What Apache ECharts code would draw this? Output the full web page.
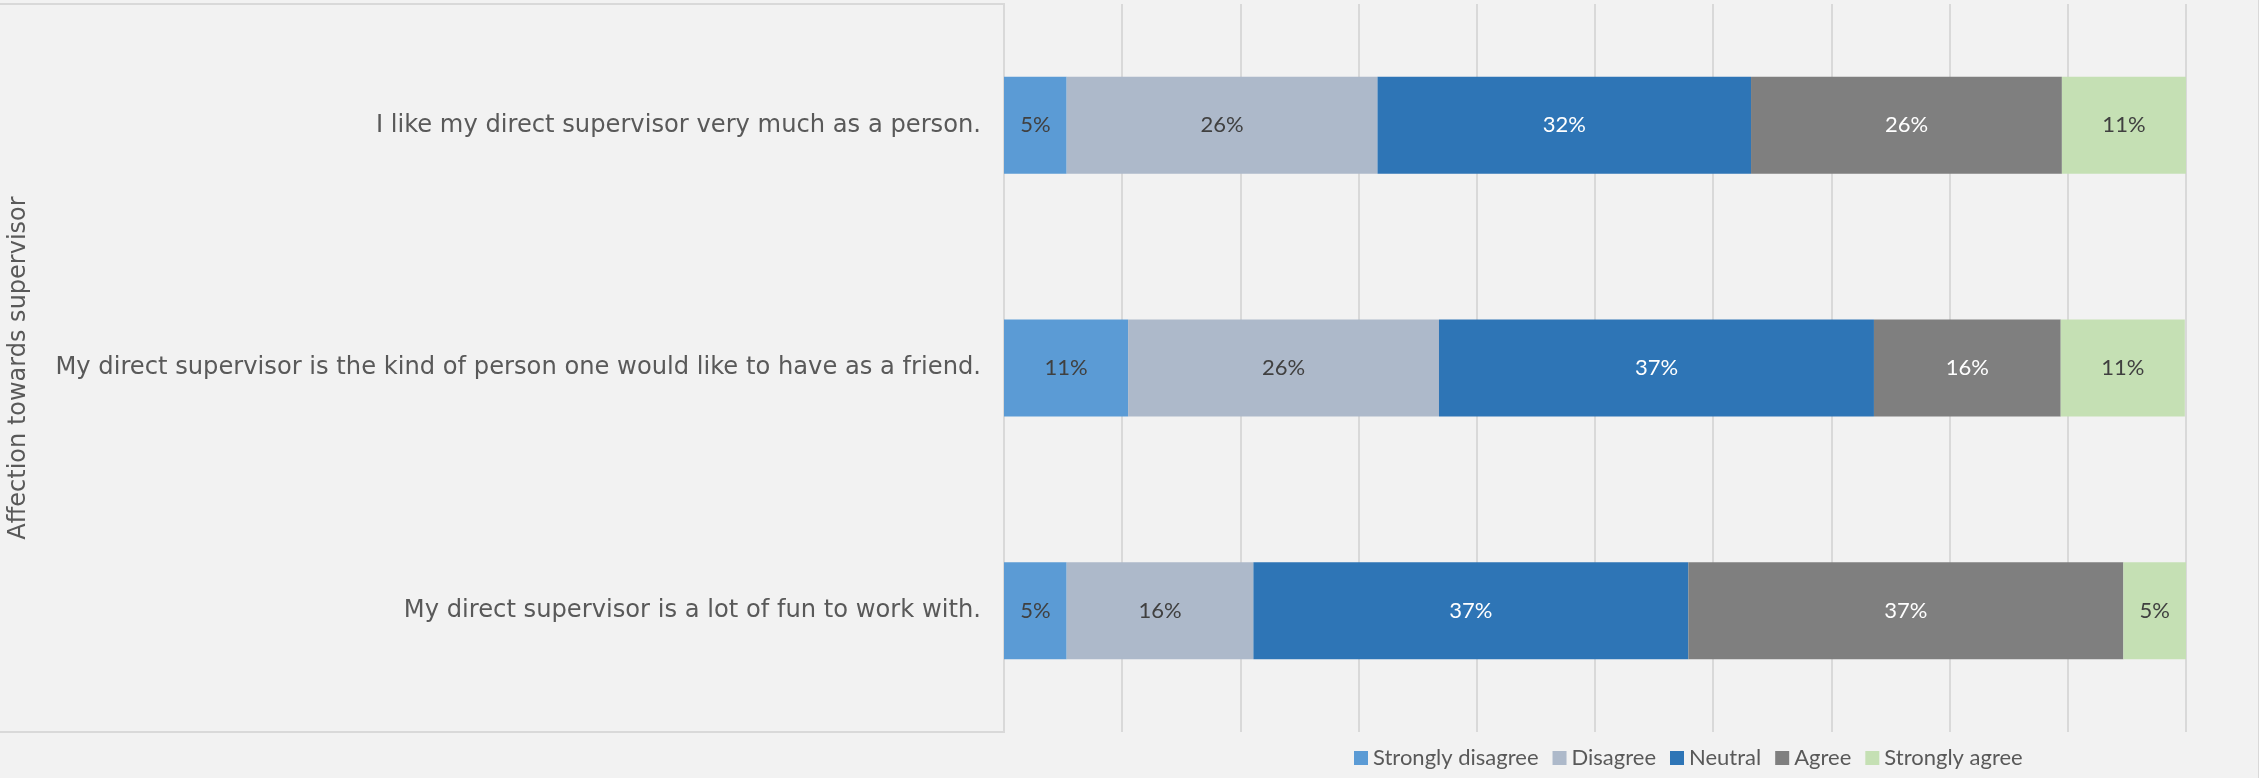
<!DOCTYPE html>
<html>
<head>
<meta charset="utf-8">
<title>Affection towards supervisor</title>
<script src="https://cdn.jsdelivr.net/npm/echarts@6/dist/echarts.min.js"></script>
<style>
  html, body { margin: 0; padding: 0; background: #f2f2f2; }
  #chart { width: 2259px; height: 778px; }
</style>
</head>
<body>
<div id="chart"></div>
<script>
// Survey statements (top to bottom)
const statements = [
  'I like my direct supervisor very much as a person.',
  'My direct supervisor is the kind of person one would like to have as a friend.',
  'My direct supervisor is a lot of fun to work with.'
];

// Response levels
const levels = ['Strongly disagree', 'Disagree', 'Neutral', 'Agree', 'Strongly agree'];

// Share of responses per level, in percent, one value per statement
const stronglyDisagree = [5.3, 10.5, 5.3];
const disagree         = [26.3, 26.3, 15.8];
const neutral          = [31.6, 36.8, 36.8];
const agree            = [26.3, 15.8, 36.8];
const stronglyAgree    = [10.5, 10.5, 5.3];

const seriesValues = [stronglyDisagree, disagree, neutral, agree, stronglyAgree];
const levelColors = ['#5b9bd5', '#adb9ca', '#2e75b6', '#7f7f7f', '#c5e0b4'];
const labelColors = ['#404040', '#404040', '#ffffff', '#ffffff', '#404040'];

// Layout of the plotting area
const W = 2259, H = 778;
const plotLeft = 1004, plotRight = 73, plotTop = 4, plotBottom = 46;

const chart = echarts.init(document.getElementById('chart'), null, { renderer: 'canvas' });

const series = levels.map((name, i) => ({
  name,
  type: 'bar',
  stack: 'total',
  barWidth: '40%',
  data: seriesValues[i],
  itemStyle: { color: levelColors[i] },
  label: {
    show: true,
    position: 'inside',
    color: labelColors[i],
    fontFamily: 'Lato',
    fontSize: 22,
    formatter: p => Math.round(p.value) + '%'
  },
  emphasis: { disabled: true }
}));

chart.setOption({
  backgroundColor: '#f2f2f2',
  animation: false,
  grid: {
    left: plotLeft, right: plotRight, top: plotTop, bottom: plotBottom,
    containLabel: false,
    outerBoundsMode: 'none'
  },
  legend: {
    data: levels,
    left: 1349,
    top: 742,
    icon: 'rect',
    itemWidth: 14,
    itemHeight: 14,
    itemGap: 14,
    textStyle: { fontFamily: 'Lato', fontSize: 22, color: '#595959' }
  },
  xAxis: {
    type: 'value',
    min: 0,
    max: 100,
    interval: 10,
    axisLabel: { show: false },
    axisTick: { show: false },
    axisLine: { show: false },
    splitLine: { show: true, lineStyle: { color: '#d9d9d9', width: 2 } }
  },
  yAxis: {
    type: 'category',
    data: statements,
    inverse: true,
    name: 'Affection towards supervisor',
    nameLocation: 'middle',
    nameRotate: 90,
    nameGap: 973,
    nameTextStyle: { fontFamily: 'DejaVu Sans', fontSize: 24, color: '#595959' },
    axisTick: { show: false },
    axisLine: { show: false },
    axisLabel: { margin: 23, fontFamily: 'DejaVu Sans', fontSize: 24.2, color: '#595959' }
  },
  graphic: [
    {
      // frame around the statement labels
      type: 'polyline',
      silent: true,
      shape: { points: [[0, plotTop], [plotLeft, plotTop], [plotLeft, H - plotBottom], [0, H - plotBottom]] },
      style: { stroke: '#d9d9d9', lineWidth: 2, fill: null }
    },
    {
      type: 'line',
      silent: true,
      shape: { x1: W - 0.5, y1: 0, x2: W - 0.5, y2: H },
      style: { stroke: '#d9d9d9', lineWidth: 1 }
    }
  ],
  series
});
</script>
</body>
</html>
